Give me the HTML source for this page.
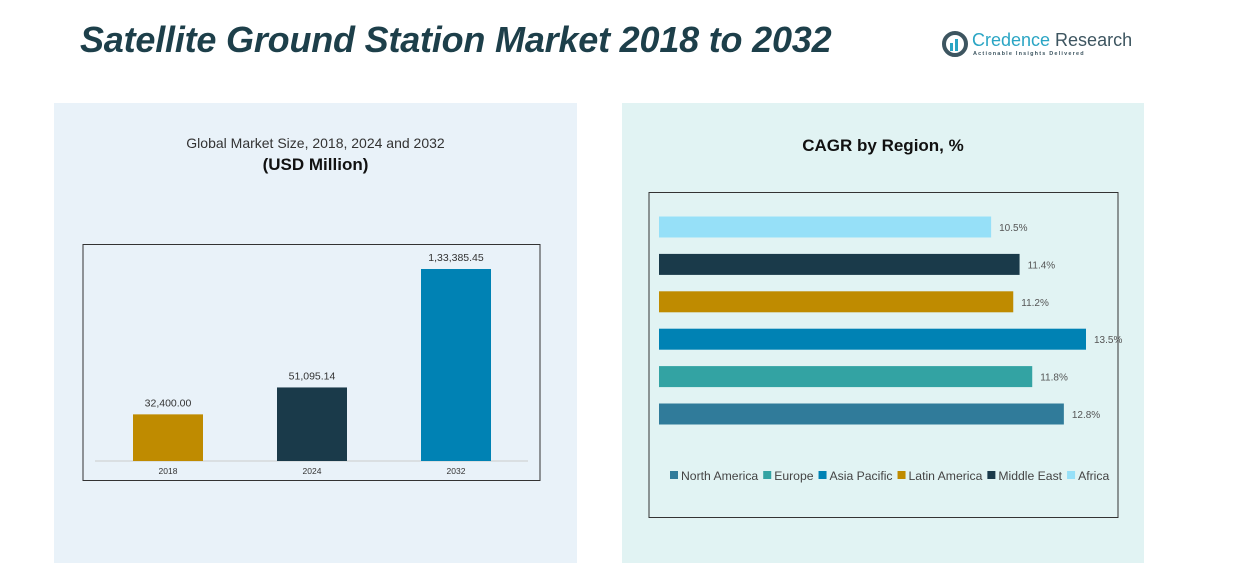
<!DOCTYPE html>
<html><head><meta charset="utf-8"><style>
body{margin:0;width:1241px;height:588px;background:#fff;font-family:"Liberation Sans",sans-serif;position:relative;overflow:hidden}
.a{position:absolute}
</style></head><body>
<div class="a" style="left:80px;top:19px;font-size:36px;font-weight:bold;font-style:italic;color:#1d3f4a;letter-spacing:-0.2px">Satellite Ground Station Market 2018 to 2032</div>
<div class="a" style="left:942px;top:30px;width:180px;height:30px">
<svg width="28" height="28" style="position:absolute;left:0;top:0"><circle cx="13" cy="14" r="11" fill="none" stroke="#3d5560" stroke-width="4"/><rect x="8" y="13" width="3" height="8" fill="#2aa5c4"/><rect x="13" y="9" width="3" height="12" fill="#2aa5c4"/></svg>
<div class="a" style="left:30px;top:0;font-size:18px;color:#3d5560;white-space:nowrap"><span style="color:#2aa5c4">Credence</span> Research</div>
<div class="a" style="left:31px;top:21px;font-size:5.5px;letter-spacing:1.2px;color:#3d5560;white-space:nowrap;font-weight:bold">Actionable Insights Delivered</div>
</div>
<div class="a" style="left:54px;top:103px;width:523px;height:460px;background:#e9f2f9"></div>
<div class="a" style="left:622px;top:103px;width:522px;height:460px;background:#e1f3f3"></div>
<div class="a" style="left:54px;top:135px;width:523px;text-align:center;font-size:14px;color:#333">Global Market Size, 2018, 2024 and 2032</div>
<div class="a" style="left:54px;top:155px;width:523px;text-align:center;font-size:17px;font-weight:bold;color:#111">(USD Million)</div>
<div class="a" style="left:622px;top:136px;width:522px;text-align:center;font-size:17px;font-weight:bold;color:#111">CAGR by Region, %</div>
<svg class="a" style="left:0;top:0" width="1241" height="588" id="svg">
<rect x="83" y="244.5" width="457" height="236" fill="none" stroke="#333"/>
<line x1="95" y1="461" x2="528" y2="461" stroke="#ccc"/>
<rect x="649" y="192.5" width="469" height="325" fill="none" stroke="#333"/>
<g id="g1"></g><g id="g2"></g>
</svg>
<script>
const years=["2018","2024","2032"];
const sizes=[32400.00,51095.14,133385.45];
const sizeLabels=["32,400.00","51,095.14","1,33,385.45"];
const yearColors=["#bf8b00","#1a3a4a","#0082b4"];
const regions=["Africa","Middle East","Latin America","Asia Pacific","Europe","North America"];
const cagr=[10.5,11.4,11.2,13.5,11.8,12.8];
const regionColors=["#96e0f8","#1a3a4a","#bf8b00","#0082b4","#33a3a3","#307b9a"];
const NS="http://www.w3.org/2000/svg";
const g1=document.getElementById('g1'),g2=document.getElementById('g2');
const yS=v=>461-v*192/133385.45;
const xC=i=>168+i*144;
years.forEach((y,i)=>{
 const r=document.createElementNS(NS,'rect');
 r.setAttribute('x',xC(i)-35);r.setAttribute('y',yS(sizes[i]));r.setAttribute('width',70);r.setAttribute('height',461-yS(sizes[i]));r.setAttribute('fill',yearColors[i]);
 
 
 g1.appendChild(r);
 const t=document.createElementNS(NS,'text');
 t.setAttribute('x',xC(i));t.setAttribute('y',yS(sizes[i])-8);t.setAttribute('text-anchor','middle');t.setAttribute('font-size','10.5');t.setAttribute('fill','#333');t.textContent=sizeLabels[i];
 
 
 g1.appendChild(t);
 const l=document.createElementNS(NS,'text');
 l.setAttribute('x',xC(i));l.setAttribute('y',474);l.setAttribute('text-anchor','middle');l.setAttribute('font-size','8.5');l.setAttribute('fill','#333');l.textContent=y;
 
 
 g1.appendChild(l);
});
const xS=v=>659+v*427/13.5;
const yC=i=>227+i*37.4;
regions.forEach((rg,i)=>{
 const k=rg.toLowerCase().replace(/ /g,'-');
 const r=document.createElementNS(NS,'rect');
 r.setAttribute('x',659);r.setAttribute('y',yC(i)-10.5);r.setAttribute('width',xS(cagr[i])-659);r.setAttribute('height',21);r.setAttribute('fill',regionColors[i]);
 
 
 g2.appendChild(r);
 const t=document.createElementNS(NS,'text');
 t.setAttribute('x',xS(cagr[i])+8);t.setAttribute('y',yC(i)+4);t.setAttribute('font-size','10');t.setAttribute('fill','#555');t.textContent=cagr[i].toFixed(1)+'%';
 
 
 g2.appendChild(t);
});
const order=[5,4,3,2,1,0];let lx=670;
order.forEach(i=>{
 const k=regions[i].toLowerCase().replace(/ /g,'-');
 const s=document.createElementNS(NS,'rect');
 s.setAttribute('x',lx);s.setAttribute('y',471);s.setAttribute('width',8);s.setAttribute('height',8);s.setAttribute('fill',regionColors[i]);
 
 
 g2.appendChild(s);
 const t=document.createElementNS(NS,'text');
 t.setAttribute('x',lx+11);t.setAttribute('y',480);t.setAttribute('font-size','12.2');t.setAttribute('fill','#444');t.textContent=regions[i];
 
 
 g2.appendChild(t);
 lx+=11+t.getComputedTextLength()+5;
});
</script>
</body></html>
